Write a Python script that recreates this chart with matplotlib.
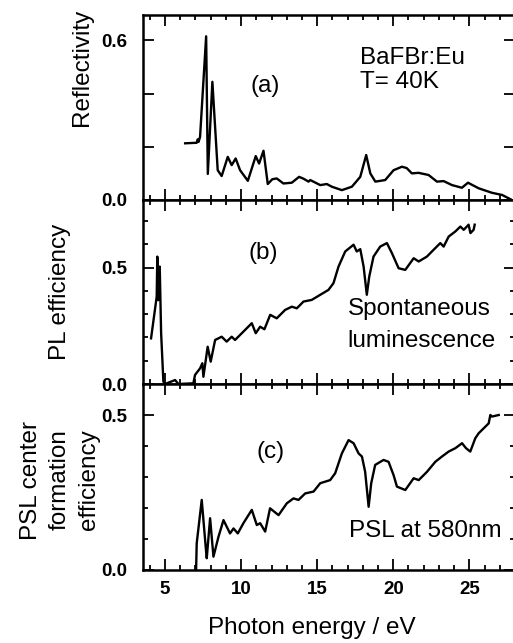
import matplotlib
matplotlib.use("Agg")
import matplotlib.pyplot as plt
from matplotlib.ticker import MultipleLocator

# ---- data ----
refl_x = [6.32, 7.08, 7.15, 7.20, 7.30, 7.70, 7.81, 8.11, 8.46, 8.72, 9.12, 9.38, 9.64, 9.93,
          10.44, 10.96, 11.18, 11.47, 11.75, 12.05, 12.34, 12.78, 13.33, 13.81, 14.10, 14.43, 14.54,
          15.20, 15.63, 15.96, 16.62, 17.28, 17.83, 18.22, 18.49, 18.82, 19.47, 20.02,
          20.57, 20.88, 21.22, 21.66, 22.32, 22.87, 23.31, 23.86, 24.51, 24.91, 25.61,
          26.49, 27.15, 27.70]
refl_y = [0.213, 0.215, 0.228, 0.218, 0.237, 0.615, 0.098, 0.444, 0.112, 0.090, 0.162, 0.131,
          0.156, 0.112, 0.072, 0.165, 0.137, 0.185, 0.060, 0.078, 0.081, 0.062, 0.065, 0.087,
          0.080, 0.069, 0.075, 0.056, 0.060, 0.050, 0.037, 0.050, 0.087, 0.169, 0.100, 0.069,
          0.075, 0.112, 0.125, 0.120, 0.100, 0.102, 0.094, 0.069, 0.071, 0.056, 0.046,
          0.065, 0.044, 0.027, 0.019, 0.003]

pl_x = [4.08, 4.45, 4.49, 4.56, 4.60, 4.65, 4.74, 4.89, 5.00, 5.66, 5.88, 6.86, 6.97, 7.30,
        7.45, 7.52, 7.80, 8.00, 8.29, 8.72, 9.05, 9.38, 9.60, 10.15, 10.70, 10.96, 11.25,
        11.53, 11.91, 12.34, 12.89, 13.33, 13.66, 14.10, 14.64, 15.20, 15.74, 16.07,
        16.40, 16.84, 17.39, 17.60, 17.83, 18.05, 18.26, 18.42, 18.70, 19.14, 19.58,
        19.91, 20.35, 20.79, 21.34, 21.67, 22.21, 22.54, 23.09, 23.31, 23.64, 24.08,
        24.41, 24.63, 24.95, 25.07, 25.28, 25.35]
pl_y = [0.196, 0.375, 0.547, 0.360, 0.420, 0.504, 0.220, 0.010, 0.000, 0.017, 0.000, 0.003,
        0.039, 0.067, 0.089, 0.031, 0.160, 0.096, 0.189, 0.203, 0.182, 0.203, 0.189,
        0.225, 0.261, 0.218, 0.246, 0.235, 0.297, 0.282, 0.318, 0.332, 0.325, 0.354,
        0.361, 0.383, 0.404, 0.433, 0.504, 0.569, 0.598, 0.569, 0.579, 0.504, 0.383,
        0.461, 0.547, 0.590, 0.605, 0.562, 0.497, 0.490, 0.540, 0.526, 0.547, 0.569,
        0.605, 0.590, 0.633, 0.655, 0.676, 0.662, 0.684, 0.648, 0.662, 0.684]

psl_x = [7.04, 7.08, 7.41, 7.67, 7.74, 7.96, 8.18, 8.51, 8.84, 9.27, 9.50, 9.78, 10.15,
         10.70, 11.03, 11.25, 11.58, 11.90, 12.46, 13.00, 13.44, 13.77, 14.21, 14.76,
         15.20, 15.85, 16.18, 16.62, 17.06, 17.39, 17.72, 17.94, 18.15, 18.38, 18.55,
         18.81, 19.36, 19.69, 20.02, 20.24, 20.79, 21.34, 21.67, 22.22, 22.76, 23.20,
         23.64, 24.08, 24.52, 24.78, 25.06, 25.39, 25.61, 25.94, 26.27, 26.38, 26.49,
         26.93]
psl_y = [0.000, 0.086, 0.226, 0.075, 0.038, 0.167, 0.043, 0.107, 0.161, 0.118, 0.134,
         0.118, 0.151, 0.194, 0.145, 0.151, 0.124, 0.199, 0.177, 0.215, 0.231, 0.226,
         0.247, 0.253, 0.280, 0.290, 0.312, 0.376, 0.419, 0.409, 0.376, 0.366, 0.317,
         0.204, 0.280, 0.339, 0.355, 0.349, 0.306, 0.269, 0.258, 0.296, 0.290, 0.317,
         0.349, 0.366, 0.382, 0.393, 0.409, 0.393, 0.382, 0.425, 0.441, 0.457, 0.473,
         0.500, 0.495, 0.500]

x_ticks = [5, 10, 15, 20, 25]

# ---- figure ----
W, H = 513, 643
fig = plt.figure(figsize=(W / 100, H / 100), dpi=100)
plt.rcParams['font.family'] = ['Liberation Sans', 'DejaVu Sans']

left = 143 / W
right = 515 / W
def frac(y):
    return 1 - y / H

ax_a = fig.add_axes([left, frac(200), right - left, frac(15) - frac(200)])
ax_b = fig.add_axes([left, frac(384), right - left, frac(200) - frac(384)], sharex=ax_a)
ax_c = fig.add_axes([left, frac(570), right - left, frac(384) - frac(570)], sharex=ax_a)

lw = 1.7
ax_a.plot(refl_x, refl_y, color='black', lw=lw)
ax_b.plot(pl_x, pl_y, color='black', lw=lw)
ax_c.plot(psl_x, psl_y, color='black', lw=lw)

ax_a.set_xlim(3.55, 28.0)
ax_a.set_ylim(0, 0.695)
ax_b.set_ylim(0, 0.79)
ax_c.set_ylim(0, 0.6)

tick_font = dict(family='Liberation Sans', weight='bold', size=13.5)
for ax in (ax_a, ax_b, ax_c):
    for s in ax.spines.values():
        s.set_linewidth(1.8)
    ax.xaxis.set_major_locator(MultipleLocator(5))
    ax.xaxis.set_minor_locator(MultipleLocator(1))
    ax.tick_params(which='both', direction='in', top=True, right=True, width=1.3)
    ax.tick_params(which='major', length=8)
    ax.tick_params(which='minor', length=3.5)
    ax.tick_params(axis='y', pad=11)
    ax.tick_params(axis='x', pad=8)

ax_a.set_yticks([0, 0.2, 0.4, 0.6])
ax_a.set_yticklabels(['0.0', '', '', '0.6'], fontdict=tick_font)
for ax in (ax_b, ax_c):
    ax.set_yticks([0, 0.5])
    ax.set_yticklabels(['0.0', '0.5'], fontdict=tick_font)
    ax.yaxis.set_minor_locator(MultipleLocator(0.1))

ax_a.tick_params(axis='x', labelbottom=False)
ax_b.tick_params(axis='x', labelbottom=False)
ax_c.set_xticks(x_ticks)
ax_c.set_xticklabels([str(v) for v in x_ticks], fontdict=tick_font)

fs = 17.5
ax_a.text(11.6, 0.428, '(a)', fontsize=fs, ha='center', va='center')
ax_a.text(17.8, 0.5125, 'BaFBr:Eu', fontsize=fs, ha='left', va='baseline')
ax_a.text(17.8, 0.4225, 'T= 40K', fontsize=fs, ha='left', va='baseline')
ax_b.text(11.45, 0.563, '(b)', fontsize=fs, ha='center', va='center')
ax_b.text(17.0, 0.297, 'Spontaneous', fontsize=fs, ha='left', va='baseline')
ax_b.text(17.0, 0.160, 'luminescence', fontsize=fs, ha='left', va='baseline')
ax_c.text(11.95, 0.382, '(c)', fontsize=fs, ha='center', va='center')
ax_c.text(17.1, 0.107, 'PSL at 580nm', fontsize=fs, ha='left', va='baseline')

fig.text(82 / W, frac(67), 'Reflectivity', fontsize=fs, rotation=90, ha='center', va='center')
fig.text(60 / W, frac(292), 'PL efficiency', fontsize=fs, rotation=90, ha='center', va='center')
fig.text(60 / W, frac(480), 'PSL center\nformation\nefficiency', fontsize=fs, rotation=90,
         ha='center', va='center', multialignment='center', linespacing=1.4)
fig.text(312 / W, frac(628), 'Photon energy / eV', fontsize=fs, ha='center', va='center')

fig.savefig('out.png', dpi=100)
